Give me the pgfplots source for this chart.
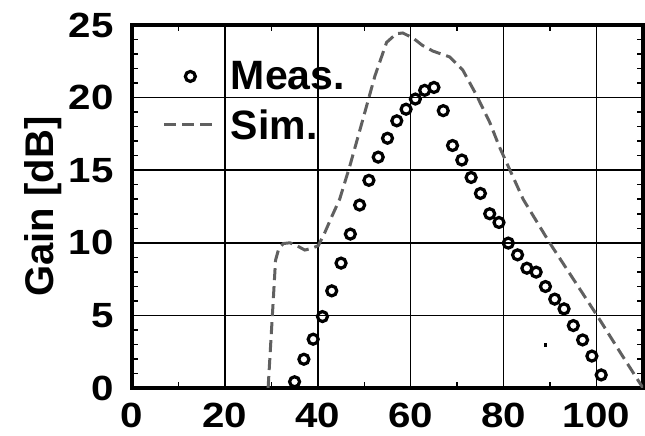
\documentclass[border=0pt]{standalone}
\usepackage{fontspec}
\setmainfont{Liberation Sans}
\newfontfamily\tickfont{Liberation Sans}[FakeStretch=1.15]
\usepackage{pgfplots}
\pgfplotsset{compat=1.18}

\definecolor{simgray}{RGB}{96,96,96}

\pgfplotsset{
    simleg/.style={legend image code/.code={\draw[##1] (0bp,0bp) -- (52bp,0bp);}},
    measleg/.style={legend image code/.code={\draw[##1] plot coordinates {(26bp,0bp)};}},
}

\begin{document}
\begin{tikzpicture}
\begin{axis}[
    scale only axis,
    width=511bp, height=363bp,
    xmin=0, xmax=110, ymin=0, ymax=25,
    xtick={0,20,...,100},
    ytick={0,5,...,25},
    minor x tick num=1,
    minor y tick num=4,
    tick align=inside,
    major tick length=6bp,
    minor tick length=6bp,
    every tick/.style={black, line width=1.5bp},
    grid=major,
    major grid style={black, line width=1.5bp},
    axis line style={line width=4bp},
    /pgf/number format/assume math mode=true,
    tick label style={font=\fontsize{35bp}{38bp}\selectfont\tickfont\bfseries},
    xticklabel style={yshift=-12bp},
    yticklabel style={xshift=-15bp},
    ylabel={Gain [dB]},
    ylabel style={font=\fontsize{40bp}{46bp}\selectfont\bfseries, yshift=0bp},
    legend style={draw=none, fill=none, at={(0.06,0.908)}, anchor=north west,
        font=\fontsize{41bp}{46bp}\selectfont\bfseries,
        row sep=12bp, inner sep=0bp, nodes={inner sep=3bp},
        /tikz/every odd column/.append style={column sep=10bp}},
    legend cell align=left,
    clip=true,
]
\addplot[only marks, mark=o, mark size=5bp, black,
    mark options={line width=3.2bp}, measleg]
coordinates {
(35,0.43) (37,1.98) (39,3.36) (41,4.92) (43,6.69) (45,8.6) (47,10.6) (49,12.6)
(51,14.3) (53,15.9) (55,17.2) (57,18.4) (59,19.2) (61,19.9) (63,20.5) (65,20.7)
(67,19.1) (69,16.7) (71,15.7) (73,14.5) (75,13.4) (77,12.0) (79,11.4) (81,9.98)
(83,9.17) (85,8.25) (87,7.98) (89,6.99) (91,6.12) (93,5.45) (95,4.3) (97,3.31)
(99,2.2) (101,0.9)
};
\addlegendentry{Meas.}
\addplot[simgray, line width=3bp, dash pattern=on 12bp off 6bp, simleg]
coordinates {
(29.3,0) (30.4,6) (30.9,8.8) (31.6,9.6) (32.6,9.95) (34,10.0) (35.5,9.8)
(37.2,9.5) (38.5,9.6) (40.1,9.8) (41.5,10.7) (43,11.8) (44.7,13.0) (46.9,15.3)
(49.7,18.5) (52.3,21.5) (54.8,23.8) (56.9,24.4) (58.3,24.45) (60.5,24.1)
(62.5,23.6) (64.8,23.2) (68.4,22.8) (71.2,21.9) (74.1,20.2) (77,18.3)
(79.1,16.6) (84.2,13.0) (89.9,10.0) (95,7.5) (100.3,4.9) (105,2.5) (110,0)
};
\addlegendentry{Sim.}
\addplot[only marks, mark=square*, mark size=1.2bp, black, forget plot]
coordinates {(89,2.97)};
\end{axis}
\pgfresetboundingbox
\path[use as bounding box] (-132bp,-48bp) rectangle (513bp,388bp);
\end{tikzpicture}
\end{document}
